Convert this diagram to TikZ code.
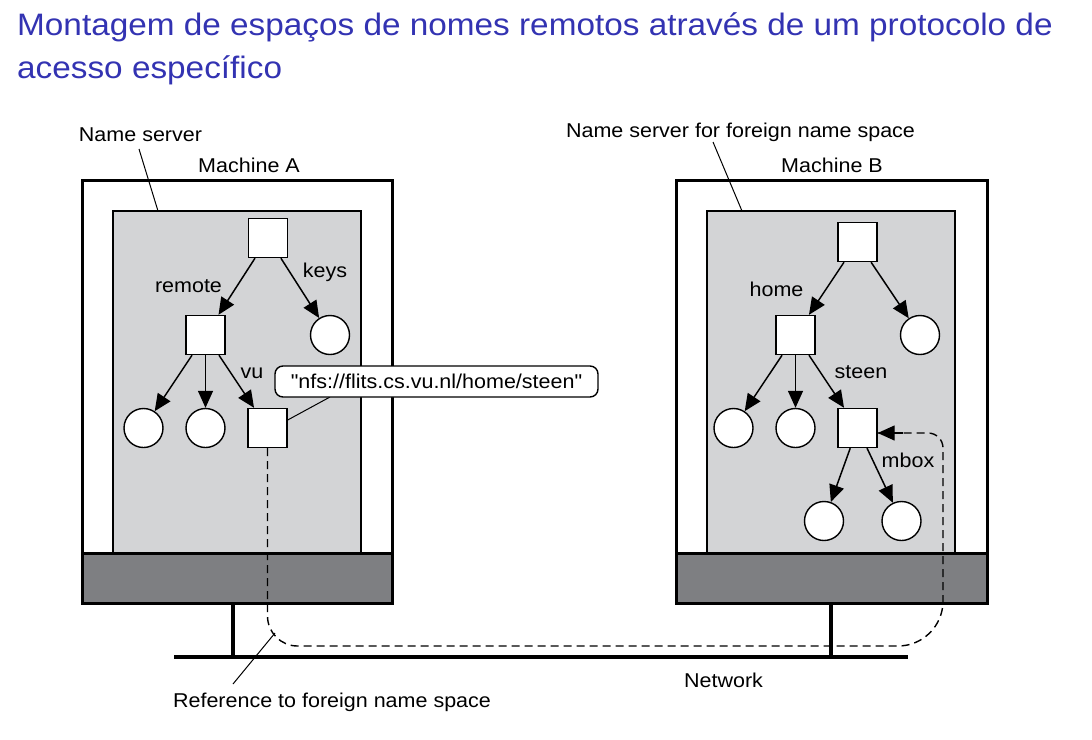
\documentclass[tikz,border=0pt]{standalone}
\usepackage{fontspec}
\setmainfont{Liberation Sans}[FakeStretch=1.075]
\newfontfamily\urlfont{Liberation Sans}[FakeStretch=1.075]
\usetikzlibrary{arrows.meta}
\definecolor{titleblue}{RGB}{51,51,178}
\definecolor{lightgrey}{RGB}{211,212,214}
\definecolor{darkgrey}{RGB}{126,127,130}
\begin{document}
\begin{tikzpicture}[x=1pt,y=-1pt,
  title/.style={font=\fontsize{31}{36}\selectfont, text=titleblue, inner sep=0pt, anchor=base west},
  lbl/.style={font=\fontsize{20}{24}\selectfont, inner sep=0pt, anchor=base},
  outerbox/.style={draw, line width=3pt, fill=white},
  innerbox/.style={draw, line width=1.4pt, fill=lightgrey},
  barbox/.style={draw, line width=3pt, fill=darkgrey},
  sq/.style={draw, fill=white, line width=1.4pt, minimum size=39pt, inner sep=0pt},
  ci/.style={circle, draw, fill=white, line width=1.4pt, minimum size=39pt, inner sep=0pt},
  tip/.style={-{Triangle[length=17pt,width=15pt]}},
  arr/.style={line width=1.5pt, tip},
  ptr/.style={line width=1pt},
  reflink/.style={line width=1.4pt, dash pattern=on 8pt off 5pt},
  netline/.style={line width=4pt},
  stub/.style={line width=3.5pt},
  urlbox/.style={draw, fill=white, line width=1.4pt, rounded corners=8pt, minimum width=323pt, minimum height=31pt, inner sep=0pt, font=\urlfont\fontsize{20}{24}\selectfont}
]
\useasboundingbox (0,0) rectangle (1092,739);

% title
\node[title] (t1) at (17,35) {Montagem de espaços de nomes remotos através de um protocolo de};
\node[title] (t2) at (17,78) {acesso específico};

% network
\draw[stub] (233,603) -- (233,657);
\draw[stub] (831,603) -- (831,657);
\draw[netline] (174,657) -- (908,657);

% machine A
\draw[outerbox] (82,180) rectangle (392,603);
\draw[innerbox] (113,211) rectangle (361,553);
\draw[barbox] (82,553) rectangle (392,603);
% machine B
\draw[outerbox] (676,180) rectangle (987,603);
\draw[innerbox] (707,211) rectangle (955,553);
\draw[barbox] (676,553) rectangle (987,603);

% labels
\node[lbl] (nsA) at (140.5,141) {Name server};
\node[lbl] (machA) at (249,172) {Machine A};
\node[lbl] (nsB) at (740.5,137) {Name server for foreign name space};
\node[lbl] (machB) at (832,172) {Machine B};
\coordinate (nsAa) at (139,149);
\coordinate (nsAb) at (158,211);
\coordinate (nsBa) at (713,142);
\coordinate (nsBb) at (742,211);
\draw[ptr] (nsAa) -- (nsAb);
\draw[ptr] (nsBa) -- (nsBb);

% tree A
\node[sq] (rA) at (268,238) {};
\node[sq] (remote) at (205.5,335) {};
\node[ci] (keys) at (330,335) {};
\node[ci] (a1) at (143.5,428) {};
\node[ci] (a2) at (205.5,428) {};
\node[sq] (vu) at (267.5,428) {};
\draw[arr] (rA) -- (remote);
\draw[arr] (rA) -- (keys);
\draw[arr] (remote) -- (a1);
\draw[arr] (remote) -- (a2);
\draw[arr] (remote) -- (vu);
\node[lbl] (lremote) at (188.5,292) {remote};
\node[lbl] (lkeys) at (325,277) {keys};
\node[lbl] (lvu) at (252,378) {vu};

% tree B
\node[sq] (rB) at (857.5,242) {};
\node[sq] (home) at (795.5,335) {};
\node[ci] (bR) at (920,335) {};
\node[ci] (b1) at (733.5,428) {};
\node[ci] (b2) at (795.5,428) {};
\node[sq] (steen) at (857.5,428) {};
\node[ci] (m1) at (824,521) {};
\node[ci] (m2) at (901.5,521) {};
\draw[arr] (rB) -- (home);
\draw[arr] (rB) -- (bR);
\draw[arr] (home) -- (b1);
\draw[arr] (home) -- (b2);
\draw[arr] (home) -- (steen);
\draw[arr] (steen) -- (m1);
\draw[arr] (steen) -- (m2);
\node[lbl] (lhome) at (776.5,296) {home};
\node[lbl] (lsteen) at (861,378) {steen};
\node[lbl] (lmbox) at (908,467) {mbox};

% url callout
\draw[ptr] ([yshift=8pt]vu.east) -- (330,397);
\node[urlbox] (url) at (436.5,381.5) {"nfs://flits.cs.vu.nl/home/steen"};

% reference link
\coordinate (d1) at (267.5,646);
\coordinate (d2) at (943,646);
\coordinate (d3) at (943,433);
\draw[reflink] (vu.south) [rounded corners=30pt] -- (d1) [rounded corners=45pt] -- (d2) [rounded corners=15pt] -- (d3) -- ([yshift=-5pt]steen.east);
\draw[line width=1.4pt, tip] ([xshift=25pt,yshift=-5pt]steen.east) -- ([yshift=-5pt]steen.east);

% bottom labels
\node[lbl] (reflbl) at (332,707) {Reference to foreign name space};
\coordinate (rla) at (233,684);
\coordinate (rlb) at (275,633);
\draw[ptr] (rla) -- (rlb);
\node[lbl] (netlbl) at (723.5,687) {Network};
\end{tikzpicture}
\end{document}
